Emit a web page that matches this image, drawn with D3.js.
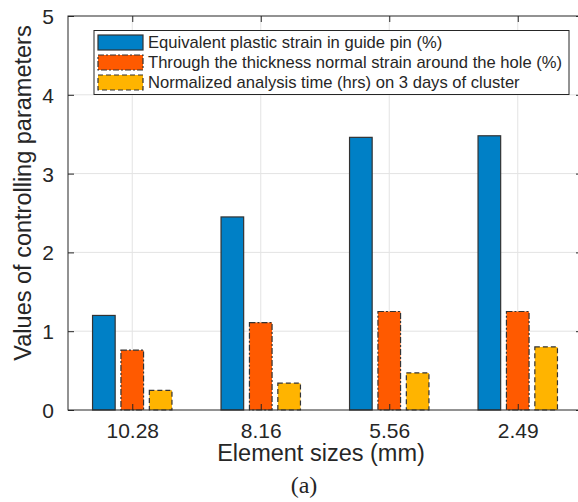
<!DOCTYPE html>
<html>
<head>
<meta charset="utf-8">
<script src="https://cdn.jsdelivr.net/npm/d3@7"></script>
<style>
  body { margin: 0; background: #fff; }
  text { font-family: "Liberation Sans", Arial, sans-serif; fill: #262626; }
</style>
</head>
<body>
<script>
var width = 578,
    height = 502;

var categories = ["10.28", "8.16", "5.56", "2.49"];
var seriesNames = [
  "Equivalent plastic strain in guide pin (%)",
  "Through the thickness normal strain around the hole (%)",
  "Normalized analysis time (hrs) on 3 days of cluster"
];
var plasticStrain = [1.20, 2.45, 3.46, 3.48];
var normalStrain = [0.76, 1.11, 1.25, 1.25];
var analysisTime = [0.25, 0.34, 0.47, 0.80];
var yTicks = [0, 1, 2, 3, 4, 5];

var colors = ["#0080c6", "#ff5a00", "#ffb400"];
var dashes = [null, "6,2,2,2", "5,3"];
var series = [plasticStrain, normalStrain, analysisTime];

var margin = {left: 68, top: 16, right: 582, bottom: 410};

var svg = d3.select("body")
    .append("svg")
    .attr("width", width)
    .attr("height", height);

// category positions 1..4, xlim [0.5, 4.5]
var x = d3.scaleLinear().domain([0.5, 4.5]).range([margin.left, margin.right]);
var y = d3.scaleLinear().domain([0, 5]).range([margin.bottom, margin.top]);

// grid
svg.append("g").selectAll("line.h")
    .data(yTicks.slice(1, -1))
    .enter().append("line")
    .attr("x1", margin.left).attr("x2", margin.right)
    .attr("y1", function(d) { return y(d); })
    .attr("y2", function(d) { return y(d); })
    .attr("stroke", "#e3e3e3").attr("stroke-width", 1);

svg.append("g").selectAll("line.v")
    .data(categories)
    .enter().append("line")
    .attr("x1", function(d, i) { return x(i + 1); })
    .attr("x2", function(d, i) { return x(i + 1); })
    .attr("y1", margin.top).attr("y2", margin.bottom)
    .attr("stroke", "#e3e3e3").attr("stroke-width", 1);

// bars
var offset = 0.221, barW = 0.176;
series.forEach(function(vals, s) {
  svg.append("g").selectAll("rect")
    .data(vals)
    .enter().append("rect")
    .attr("x", function(d, i) { return x(i + 1 + (s - 1) * offset - barW / 2); })
    .attr("width", x(barW) - x(0))
    .attr("y", function(d) { return y(d); })
    .attr("height", function(d) { return y(0) - y(d); })
    .attr("fill", colors[s])
    .attr("stroke", "#333")
    .attr("stroke-width", 1.2)
    .attr("stroke-dasharray", dashes[s]);
});

// axes box
var box = svg.append("g").attr("fill", "none").attr("stroke", "#262626").attr("stroke-width", 1);
box.append("rect")
    .attr("x", margin.left).attr("y", margin.top)
    .attr("width", margin.right - margin.left)
    .attr("height", margin.bottom - margin.top);

var yAxis = d3.axisLeft(y).tickValues(yTicks).tickSize(-6).tickPadding(14).tickFormat(d3.format("d"));
var yg = svg.append("g").attr("transform", "translate(" + margin.left + ",0)").call(yAxis);
var yAxisR = d3.axisRight(y).tickValues(yTicks).tickSize(-6).tickFormat("");
var yr = svg.append("g").attr("transform", "translate(" + margin.right + ",0)").call(yAxisR);

var xAxis = d3.axisBottom(x).tickValues([1, 2, 3, 4]).tickSize(-6).tickPadding(13)
    .tickFormat(function(d) { return categories[d - 1]; });
var xg = svg.append("g").attr("transform", "translate(0," + margin.bottom + ")").call(xAxis);
var xAxisT = d3.axisTop(x).tickValues([1, 2, 3, 4]).tickSize(-6).tickFormat("");
var xt = svg.append("g").attr("transform", "translate(0," + margin.top + ")").call(xAxisT);

[yg, yr, xg, xt].forEach(function(g) {
  g.select(".domain").remove();
  g.selectAll(".tick line").attr("stroke", "#262626");
  g.selectAll("text").style("font-size", "21px").attr("fill", "#262626")
    .style("font-family", "'Liberation Sans', Arial, sans-serif");
});
yg.selectAll("text").attr("dy", "0.36em");

// axis labels
svg.append("text")
    .attr("x", 321)
    .attr("y", 461)
    .attr("text-anchor", "middle")
    .style("font-size", "23.5px")
    .text("Element sizes (mm)");

svg.append("text")
    .attr("transform", "translate(31,193) rotate(-90)")
    .attr("text-anchor", "middle")
    .style("font-size", "23.5px")
    .text("Values of controlling parameters");

svg.append("text")
    .attr("x", 304)
    .attr("y", 493)
    .attr("text-anchor", "middle")
    .style("font-family", "'Liberation Serif', 'DejaVu Serif', serif")
    .style("font-size", "24px")
    .text("(a)");

// legend
var legend = svg.append("g");
legend.append("rect")
    .attr("x", 94).attr("y", 30.5)
    .attr("width", 475).attr("height", 64)
    .attr("fill", "#fff").attr("stroke", "#262626").attr("stroke-width", 1);

var rows = legend.selectAll("g.row")
    .data(seriesNames)
    .enter().append("g")
    .attr("transform", function(d, i) { return "translate(0," + (42.5 + i * 20) + ")"; });

rows.append("rect")
    .attr("x", 98).attr("y", -7.5)
    .attr("width", 45).attr("height", 15)
    .attr("fill", function(d, i) { return colors[i]; })
    .attr("stroke", "#333").attr("stroke-width", 1.2)
    .attr("stroke-dasharray", function(d, i) { return dashes[i]; });

rows.append("text")
    .attr("x", 148).attr("y", 0)
    .attr("dy", "0.36em")
    .style("font-size", "16.6px")
    .text(function(d) { return d; });
</script>
</body>
</html>
